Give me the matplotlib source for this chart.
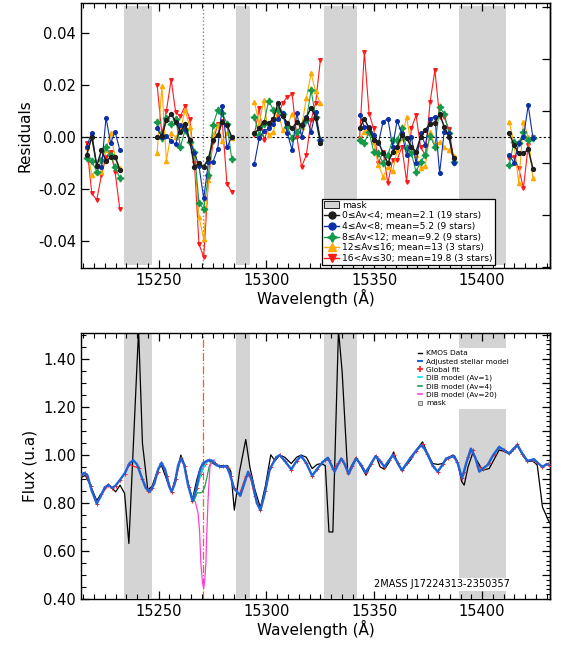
import matplotlib
matplotlib.use("Agg")
import matplotlib.pyplot as plt
from matplotlib.lines import Line2D
from matplotlib.patches import Patch
from matplotlib.ticker import MultipleLocator, FormatStrFormatter, FixedLocator, NullFormatter
import numpy as np

plt.rcParams['font.family'] = ['DejaVu Sans']
plt.rcParams['axes.unicode_minus'] = False

nan = np.nan

# ---- masked wavelength ranges (Angstrom)
masks = [(15234.0, 15247.0), (15286.0, 15292.2), (15326.6, 15341.8), (15389.5, 15411.0)]
dib_center = 15270.8

# ---- top panel: mean residuals per Av bin (segments separated by nan)
res_wave = ([15216.6, 15219.0, 15221.3, 15223.5, 15225.6, 15227.7, 15229.8, 15232.0] + [nan] +
            [15249.3, 15251.5, 15253.6, 15255.8, 15257.9, 15260.1, 15262.3, 15264.4, 15266.6,
             15268.7, 15270.9, 15273.1, 15275.2, 15277.4, 15279.5, 15281.7, 15283.9] + [nan] +
            [15294.4, 15296.6, 15298.8, 15301.0, 15303.2, 15305.3, 15307.5, 15309.7, 15311.9,
             15314.1, 15316.3, 15318.5, 15320.7, 15322.8, 15325.0] + [nan] +
            [15343.2, 15345.4, 15347.6, 15349.7, 15351.9, 15354.1, 15356.3, 15358.5, 15360.6,
             15362.8, 15365.0, 15367.2, 15369.4, 15371.5, 15373.7, 15375.9, 15378.1, 15380.3,
             15382.4, 15384.6, 15386.8] + [nan] +
            [15412.6, 15414.8, 15417.0, 15419.2, 15421.4, 15423.6])

res_av0 = ([-0.0069, 0.0000, -0.0111, -0.0050, -0.0092, -0.0078, -0.0075, -0.0126] + [nan] +
           [0.0000, 0.0004, 0.0065, 0.0088, 0.0059, 0.0020, 0.0052, -0.0011, -0.0114,
            -0.0101, -0.0114, -0.0082, -0.0011, 0.0008, 0.0059, 0.0046, 0.0000] + [nan] +
           [0.0014, 0.0033, 0.0059, 0.0055, 0.0068, 0.0131, 0.0080, 0.0055, 0.0033,
            0.0058, 0.0047, 0.0075, 0.0113, 0.0075, -0.0021] + [nan] +
           [0.0033, 0.0071, 0.0033, -0.0011, -0.0018, -0.0062, -0.0101, -0.0056, -0.0037,
            0.0008, -0.0005, -0.0037, -0.0056, 0.0001, 0.0027, 0.0052, 0.0055, 0.0090,
            0.0040, 0.0001, -0.0082] + [nan] +
           [0.0014, -0.0030, -0.0063, -0.0063, -0.0047, -0.0122])

res_av4 = ([-0.0037, 0.0017, -0.0111, -0.0116, 0.0075, -0.0024, 0.0020, -0.0050] + [nan] +
           [0.0033, 0.0000, 0.0005, -0.0015, -0.0028, 0.0046, 0.0030, -0.0010, -0.0060,
            -0.0110, -0.0235, -0.0095, -0.0095, -0.0045, 0.0120, -0.0040, 0.0002] + [nan] +
           [-0.0103, -0.0005, 0.0024, 0.0033, 0.0052, 0.0071, 0.0093, 0.0014, -0.0050,
            0.0093, 0.0001, 0.0078, 0.0020, 0.0097, -0.0011] + [nan] +
           [0.0084, 0.0040, 0.0040, 0.0008, -0.0024, 0.0059, 0.0071, -0.0037, 0.0062,
            0.0014, -0.0069, 0.0000, -0.0100, 0.0014, -0.0030, 0.0071, 0.0078, -0.0139,
            0.0020, 0.0014, -0.0100] + [nan] +
           [-0.0069, -0.0098, -0.0024, 0.0000, 0.0122, -0.0005])

res_av8 = ([-0.0082, -0.0092, -0.0133, -0.0088, -0.0037, -0.0069, -0.0114, -0.0158] + [nan] +
           [0.0059, -0.0005, 0.0075, 0.0052, 0.0071, -0.0037, 0.0027, -0.0018, -0.0056,
            -0.0251, -0.0277, -0.0145, 0.0046, 0.0103, 0.0091, 0.0052, -0.0085] + [nan] +
           [0.0078, 0.0008, 0.0052, 0.0139, 0.0103, 0.0103, 0.0090, 0.0040, -0.0005,
            0.0020, 0.0046, 0.0065, 0.0180, 0.0078, -0.0011] + [nan] +
           [-0.0010, -0.0022, 0.0020, -0.0056, -0.0063, -0.0101, -0.0069, -0.0011, -0.0011,
            0.0033, -0.0043, -0.0062, -0.0133, -0.0094, -0.0069, 0.0005, -0.0037, 0.0116,
            0.0090, 0.0017, -0.0095] + [nan] +
           [-0.0107, -0.0018, -0.0024, 0.0020, -0.0011, -0.0005])

res_av12 = ([-0.0037, -0.0145, -0.0133, -0.0133, -0.0050, 0.0014, -0.0075, -0.0120] + [nan] +
            [-0.0060, 0.0195, -0.0090, 0.0015, 0.0000, 0.0027, 0.0103, 0.0040, -0.0070,
             -0.0305, -0.0390, -0.0165, 0.0010, 0.0045, -0.0015, 0.0014, -0.0005] + [nan] +
            [0.0135, 0.0052, 0.0142, 0.0008, 0.0020, 0.0103, 0.0027, 0.0046, 0.0090,
             0.0059, 0.0040, 0.0148, 0.0244, 0.0175, 0.0129] + [nan] +
            [-0.0005, 0.0020, 0.0033, -0.0020, -0.0107, -0.0152, -0.0113, -0.0132, -0.0050,
             -0.0005, 0.0078, -0.0037, -0.0070, -0.0120, -0.0110, 0.0020, -0.0030, -0.0018,
             -0.0037, -0.0050, -0.0073] + [nan] +
            [0.0059, -0.0024, -0.0177, 0.0059, 0.0000, -0.0158])

res_av16 = ([-0.0024, -0.0216, -0.0241, -0.0145, -0.0075, -0.0056, -0.0133, -0.0277] + [nan] +
            [0.0200, 0.0010, 0.0100, 0.0220, 0.0095, 0.0080, 0.0120, 0.0070, -0.0100,
             -0.0410, -0.0460, -0.0160, -0.0020, 0.0050, 0.0060, -0.0180, -0.0210] + [nan] +
            [0.0008, 0.0110, -0.0010, 0.0033, 0.0070, 0.0080, 0.0130, 0.0155, 0.0165,
             0.0001, -0.0114, -0.0069, 0.0065, 0.0130, 0.0295] + [nan] +
            [-0.0005, 0.0327, 0.0090, 0.0033, -0.0100, -0.0056, -0.0177, -0.0088, -0.0088,
             -0.0037, -0.0171, 0.0033, 0.0084, -0.0040, -0.0069, 0.0135, 0.0256, 0.0078,
             0.0078, 0.0030, -0.0082] + [nan] +
            [-0.0082, -0.0075, -0.0120, -0.0196, -0.0030, 0.0000])

bin_labels = ["0\u2264Av<4; mean=2.1 (19 stars)",
              "4\u2264Av<8; mean=5.2 (9 stars)",
              "8\u2264Av<12; mean=9.2 (9 stars)",
              "12\u2264Av\u226416; mean=13 (3 stars)",
              "16<Av\u226430; mean=19.8 (3 stars)"]

# ---- bottom panel: KMOS data and global fit
data_wave = [15214.0, 15216.0, 15218.5, 15221.3, 15223.5, 15226.7, 15228.5, 15230.1, 15232.1, 15234.2,
             15236.2, 15240.7, 15242.5, 15245.0, 15247.0, 15249.5, 15251.3, 15254.0, 15256.0, 15258.0,
             15260.3, 15262.0, 15264.0, 15265.7, 15267.8, 15269.5, 15271.5, 15273.5, 15276.0, 15278.0,
             15280.0, 15282.0, 15283.5, 15285.1, 15287.5, 15290.4, 15292.3, 15294.5, 15297.2, 15299.5,
             15302.0, 15304.0, 15306.1, 15308.5, 15311.5, 15314.0, 15316.1, 15318.5, 15321.2, 15323.5,
             15325.4, 15327.3, 15329.0, 15330.8, 15333.4, 15335.1, 15337.7, 15339.8, 15341.6, 15344.0,
             15346.2, 15348.5, 15350.8, 15352.7, 15354.7, 15357.0, 15359.0, 15361.0, 15362.9, 15365.0,
             15367.0, 15369.5, 15372.4, 15374.5, 15377.1, 15379.5, 15381.7, 15384.0, 15386.3, 15388.5,
             15390.5, 15391.7, 15393.5, 15395.6, 15398.0, 15400.2, 15403.3, 15405.5, 15407.9, 15410.2,
             15412.6, 15414.5, 15416.4, 15418.7, 15421.0, 15423.5, 15425.6, 15428.0, 15430.7, 15432.0]
data_flux = [0.905, 0.915, 0.870, 0.810, 0.840, 0.878, 0.860, 0.846, 0.874, 0.840,
             0.631, 1.520, 1.047, 0.853, 0.870, 0.935, 0.957, 0.890, 0.846, 0.910,
             0.999, 0.960, 0.870, 0.815, 0.900, 0.950, 0.970, 0.975, 0.960, 0.955,
             0.955, 0.955, 0.930, 0.770, 0.930, 1.064, 0.950, 0.860, 0.780, 0.870,
             1.000, 0.975, 0.999, 0.990, 0.964, 0.990, 0.999, 0.990, 0.943, 0.960,
             0.964, 0.955, 0.679, 0.679, 1.520, 1.346, 0.922, 0.960, 0.989, 0.950,
             0.915, 0.960, 0.997, 0.950, 0.940, 0.970, 1.012, 0.960, 0.933, 0.960,
             0.980, 1.020, 1.054, 1.010, 0.964, 0.960, 0.964, 0.985, 0.999, 0.975,
             0.890, 0.874, 0.950, 1.006, 0.970, 0.936, 0.943, 0.980, 1.020, 1.015,
             1.003, 1.020, 1.040, 1.000, 0.971, 0.975, 0.957, 0.783, 0.728, 0.710]
fit_flux = [0.915, 0.924, 0.870, 0.797, 0.835, 0.874, 0.862, 0.872, 0.895, 0.922,
            0.960, 0.945, 0.900, 0.850, 0.860, 0.930, 0.967, 0.910, 0.846, 0.900,
            0.985, 0.955, 0.865, 0.808, 0.860, 0.920, 0.962, 0.978, 0.965, 0.952,
            0.952, 0.945, 0.910, 0.860, 0.835, 0.910, 0.915, 0.830, 0.770, 0.850,
            0.950, 0.985, 0.999, 0.975, 0.939, 0.975, 0.996, 0.965, 0.913, 0.940,
            0.965, 0.980, 0.980, 0.940, 0.965, 0.980, 0.925, 0.953, 0.985, 0.957,
            0.927, 0.962, 0.995, 0.975, 0.950, 0.980, 0.998, 0.965, 0.936, 0.965,
            0.990, 1.018, 1.045, 1.005, 0.955, 0.930, 0.960, 0.988, 0.995, 0.970,
            0.905, 0.930, 0.990, 1.020, 0.955, 0.940, 0.965, 1.003, 1.033, 1.020,
            1.006, 1.025, 1.045, 1.005, 0.975, 0.980, 0.968, 0.950, 0.960, 0.955]

# ---- adjusted stellar model (finer sampling)
model_wave = [15214.0, 15215.5, 15217.0, 15219.0, 15221.3, 15223.0, 15225.0, 15226.7, 15228.5, 15230.0,
              15232.0, 15234.4, 15236.5, 15238.2, 15240.0, 15242.0, 15244.0, 15245.9, 15248.0, 15249.8,
              15251.3, 15253.0, 15254.8, 15256.0, 15257.5, 15259.0, 15260.3, 15261.8, 15263.5, 15265.7,
              15267.5, 15269.0, 15270.5, 15273.0, 15275.0, 15276.8, 15279.0, 15281.5, 15283.0, 15285.0,
              15287.9, 15289.7, 15291.5, 15293.5, 15295.5, 15297.2, 15299.0, 15301.5, 15304.6, 15306.1,
              15308.5, 15311.5, 15314.0, 15316.1, 15318.5, 15321.2, 15323.8, 15326.2, 15328.5, 15330.0,
              15331.6, 15333.2, 15334.7, 15336.4, 15338.1, 15339.9, 15341.6, 15343.8, 15345.9, 15348.3,
              15350.6, 15352.7, 15354.7, 15356.7, 15358.6, 15360.7, 15362.8, 15364.7, 15366.6, 15369.2,
              15371.7, 15373.3, 15374.8, 15377.1, 15379.4, 15381.4, 15383.3, 15387.1, 15388.9, 15390.7,
              15392.8, 15394.8, 15396.8, 15398.7, 15400.6, 15402.5, 15405.2, 15407.9, 15410.2, 15412.6,
              15414.5, 15416.4, 15418.7, 15421.0, 15424.1, 15426.0, 15428.0, 15430.0, 15432.0]
model_flux = [0.915, 0.925, 0.915, 0.850, 0.797, 0.825, 0.865, 0.874, 0.862, 0.872,
              0.895, 0.925, 0.965, 0.978, 0.960, 0.910, 0.862, 0.846, 0.880, 0.940,
              0.967, 0.940, 0.870, 0.846, 0.880, 0.955, 0.985, 0.960, 0.880, 0.808,
              0.860, 0.930, 0.965, 0.978, 0.975, 0.957, 0.950, 0.954, 0.920, 0.860,
              0.830, 0.880, 0.930, 0.890, 0.800, 0.770, 0.830, 0.940, 0.990, 0.999,
              0.975, 0.939, 0.975, 0.996, 0.965, 0.913, 0.945, 0.971, 0.988, 0.960,
              0.930, 0.960, 0.985, 0.960, 0.920, 0.955, 0.985, 0.960, 0.926, 0.960,
              0.995, 0.975, 0.950, 0.975, 1.000, 0.970, 0.936, 0.960, 0.985, 1.015,
              1.040, 1.025, 1.000, 0.955, 0.930, 0.955, 0.985, 0.995, 0.960, 0.902,
              0.970, 1.026, 0.990, 0.930, 0.945, 0.957, 1.000, 1.033, 1.020, 1.006,
              1.025, 1.040, 1.005, 0.975, 0.982, 0.965, 0.950, 0.962, 0.955]

# ---- DIB models for three extinctions
dib1_wave = [15266.4, 15267.9, 15269.5, 15270.7, 15271.9, 15273.0, 15274.5]
dib1_flux = [0.810, 0.867, 0.915, 0.943, 0.964, 0.975, 0.980]
dib4_wave = [15266.4, 15267.9, 15269.5, 15270.3, 15271.4, 15272.3, 15273.4, 15274.5]
dib4_flux = [0.810, 0.842, 0.842, 0.846, 0.867, 0.902, 0.950, 0.971]
dib20_wave = [15267.0, 15268.3, 15269.0, 15269.6, 15270.3, 15270.9, 15271.4, 15271.9,
              15272.4, 15272.9, 15273.8, 15274.8, 15275.8]
dib20_flux = [0.805, 0.756, 0.680, 0.547, 0.470, 0.443, 0.480, 0.547,
              0.690, 0.810, 0.950, 0.975, 0.978]

star_name = "2MASS J17224313-2350357"

mask_col = '#d4d4d4'
c_black, c_blue, c_green, c_orange, c_red = '#1e1e1e', '#0b2fa8', '#159a4a', '#ffaa00', '#ff1a1a'

fig = plt.figure(figsize=(5.61, 6.53), dpi=100)
ax1 = fig.add_axes([0.1444, 0.5896, 0.836, 0.4058])
ax2 = fig.add_axes([0.1444, 0.0827, 0.836, 0.4069])
xlim = (15214.0, 15431.5)


def style_axes(ax):
    ax.set_xlim(*xlim)
    ax.xaxis.set_major_locator(MultipleLocator(50))
    ax.xaxis.set_minor_locator(MultipleLocator(5))
    ax.tick_params(which='both', direction='in', top=True, right=False, labelsize=10.5)
    ax.tick_params(which='major', length=6, width=0.9)
    ax.tick_params(which='minor', length=3.5, width=0.8)
    for s in ax.spines.values():
        s.set_linewidth(1.0)
    ax.set_xlabel("Wavelength (\u00c5)", fontsize=11, labelpad=1)


def right_ticks(ax, major, minor=None):
    # separate tick set on the right edge (no labels)
    sec = ax.secondary_yaxis('right')
    sec.yaxis.set_major_locator(FixedLocator(major))
    sec.yaxis.set_major_formatter(NullFormatter())
    if minor is not None:
        sec.yaxis.set_minor_locator(MultipleLocator(minor))
    sec.tick_params(which='both', direction='in')
    sec.tick_params(which='major', length=6, width=0.9)
    sec.tick_params(which='minor', length=3, width=0.8)
    sec.spines['right'].set_linewidth(1.0)
    return sec


# ---------------- top panel
ax = ax1
style_axes(ax)
ax.set_ylim(-0.0502, 0.0514)
ax.yaxis.set_major_locator(MultipleLocator(0.02))
ax.yaxis.set_major_formatter(FormatStrFormatter('%.2f'))
for lo, hi in masks:
    ax.axvspan(lo, hi, ymin=0.012, ymax=0.99, color=mask_col, lw=0, zorder=0)
ax.axvline(dib_center, color='#888888', ls=':', lw=1.0, zorder=1)
ax.axhline(0.0, color='black', ls=(0, (2, 2)), lw=0.8, zorder=1)

ax.plot(res_wave, res_av16, color=c_red, marker='v', ms=2.6, lw=0.8, zorder=3)
ax.plot(res_wave, res_av12, color=c_orange, marker='^', ms=3.0, lw=0.8, zorder=4)
ax.plot(res_wave, res_av8, color=c_green, marker=(4, 1, 0), ms=5, lw=0.8, zorder=5)
ax.plot(res_wave, res_av4, color=c_blue, marker='o', ms=2.6, lw=0.8, zorder=6)
ax.plot(res_wave, res_av0, color=c_black, marker='o', ms=2.8, lw=1.1, zorder=7)
ax.set_ylabel("Residuals", fontsize=11)
right_ticks(ax, [0.05, 0.03, 0.01, -0.01, -0.03, -0.05])

handles = [Patch(facecolor=mask_col, edgecolor='black', lw=0.6),
           Line2D([], [], color=c_black, marker='o', ms=5, lw=1),
           Line2D([], [], color=c_blue, marker='o', ms=5, lw=1),
           Line2D([], [], color=c_green, marker=(4, 1, 0), ms=7, lw=1),
           Line2D([], [], color=c_orange, marker='^', ms=6, lw=1),
           Line2D([], [], color=c_red, marker='v', ms=6, lw=1)]
leg = ax.legend(handles, ['mask'] + bin_labels, loc='lower left', bbox_to_anchor=(0.514, 0.01),
                fontsize=6.6, frameon=True, fancybox=False, edgecolor='black', framealpha=1,
                handlelength=1.6, handletextpad=0.3, borderpad=0.25, labelspacing=0.18,
                borderaxespad=0)
leg.get_frame().set_linewidth(0.9)
leg.set_zorder(10)

# ---------------- bottom panel
ax = ax2
style_axes(ax)
ax.set_ylim(0.40, 1.506)
ax.yaxis.set_major_locator(MultipleLocator(0.2))
ax.yaxis.set_minor_locator(MultipleLocator(0.05))
ax.yaxis.set_major_formatter(FormatStrFormatter('%.2f'))
for lo, hi in masks:
    ax.axvspan(lo, hi, ymin=0.004, ymax=0.997, color=mask_col, lw=0, zorder=0)
ax.axvline(dib_center, color='#ff5a1f', ls='-.', lw=0.9, zorder=1)

ax.plot(data_wave, data_flux, color='black', lw=0.9, zorder=3)
ax.plot(data_wave, fit_flux, color='#ff2020', lw=0.9, marker='+', ms=3, mew=0.7, zorder=4)
ax.plot(dib1_wave, dib1_flux, color='#00e8f0', lw=0.9, zorder=5)
ax.plot(dib4_wave, dib4_flux, color='#1b9e50', lw=0.9, zorder=5)
ax.plot(dib20_wave, dib20_flux, color='#ff40d8', lw=0.9, zorder=5)
ax.plot(model_wave, model_flux, color='#1f63d9', lw=1.7, zorder=6)
ax.set_ylabel("Flux (u.a)", fontsize=11)
ax.text(15381.5, 0.461, star_name, fontsize=7, ha='center', va='center', zorder=8,
        bbox=dict(facecolor='white', edgecolor='none', pad=1.0))
right_ticks(ax, [0.5, 0.6, 0.7, 0.8, 0.9, 1.0, 1.1, 1.2, 1.3, 1.4, 1.5], minor=0.02)

h2 = [Line2D([], [], color='black', lw=1),
      Line2D([], [], color='#1f63d9', lw=1.5),
      Line2D([], [], color='#ff2020', lw=0, marker='+', ms=5, mew=1.2),
      Line2D([], [], color='#00e8f0', lw=1.2),
      Line2D([], [], color='#1b9e50', lw=1.2),
      Line2D([], [], color='#ff40d8', lw=1.2),
      Patch(facecolor=mask_col, edgecolor='#555555', lw=0.5)]
l2 = ['KMOS Data', 'Adjusted stellar model', 'Global fit', 'DIB model (Av=1)',
      'DIB model (Av=4)', 'DIB model (Av=20)', 'mask']
leg2 = ax.legend(h2, l2, loc='upper left', bbox_to_anchor=(0.712, 0.945), fontsize=5.3,
                 frameon=True, facecolor='white', edgecolor='none', framealpha=1, fancybox=False,
                 handlelength=0.6, handleheight=0.5, handletextpad=0.6, borderpad=0.35,
                 labelspacing=0.28, borderaxespad=0)
leg2.set_zorder(10)

fig.savefig("out.png", dpi=100)
